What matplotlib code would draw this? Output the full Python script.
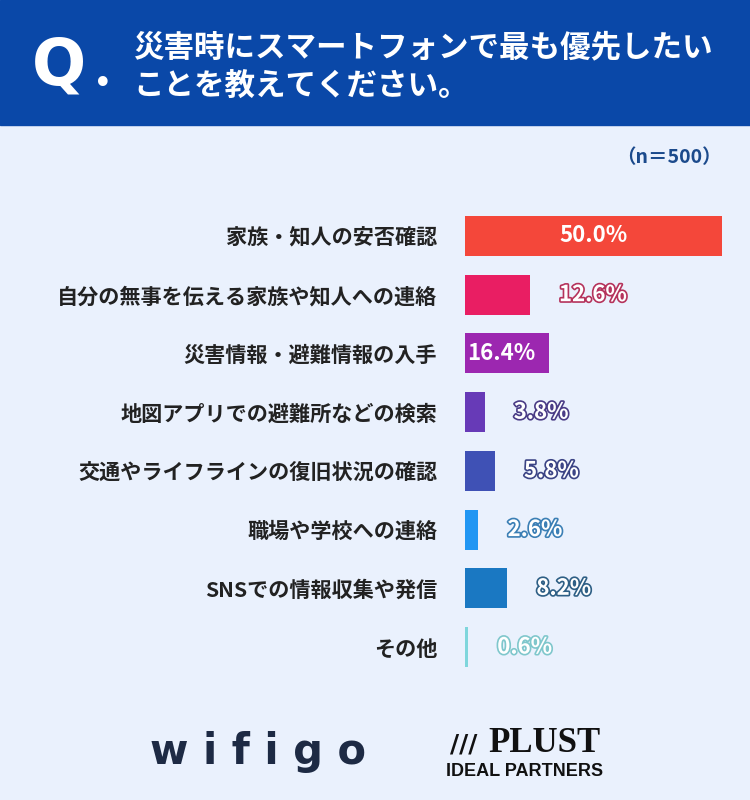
import matplotlib
matplotlib.use("Agg")
import matplotlib.pyplot as plt
import matplotlib.patheffects as pe
from matplotlib.patches import Rectangle

plt.rcParams['font.family'] = ['Noto Sans CJK JP', 'DejaVu Sans']

categories = ["家族・知人の安否確認", "自分の無事を伝える家族や知人への連絡", "災害情報・避難情報の入手",
              "地図アプリでの避難所などの検索", "交通やライフラインの復旧状況の確認", "職場や学校への連絡",
              "SNSでの情報収集や発信", "その他"]
values = [50.0, 12.6, 16.4, 3.8, 5.8, 2.6, 8.2, 0.6]
colors = ["#f4473a", "#e91e63", "#9c27b0", "#673ab7", "#3f51b5", "#2196f3", "#1a78c2", "#7fd6dc"]
strokes = ["#f4473a", "#b5335c", "#9c27b0", "#4a3c86", "#3b4485", "#3b7fb5", "#2e5f85", "#7fc7cc"]
inside = [True, False, True, False, False, False, False, False]

W, H = 750, 800
fig = plt.figure(figsize=(7.5, 8), dpi=100)
fig.patch.set_facecolor("#eaf1fd")

# header
fig.add_artist(Rectangle((0, 1 - 125 / H), 1, 125 / H, transform=fig.transFigure, color="#0a48a8", zorder=0))
fig.text(32 / W, 1 - 66 / H, "Q", color="white", fontsize=46, fontweight="bold", va="center", ha="left",
         family="DejaVu Sans")
fig.text(103 / W, 1 - 84 / H, "•", color="white", fontsize=24, va="center", ha="center", family="DejaVu Sans")
fig.text(133 / W, 1 - 47 / H, "災害時にスマートフォンで最も優先したい", color="white", fontsize=22,
         fontweight="bold", va="center", ha="left")
fig.text(133 / W, 1 - 87 / H, "ことを教えてください。", color="white", fontsize=22,
         fontweight="bold", va="center", ha="left")
fig.text(722 / W, 1 - 158 / H, "（n＝500）", color="#1b4a8c", fontsize=14, fontweight="bold",
         va="center", ha="right")

top, bot = 206.6, 676.4
ax = fig.add_axes([465 / W, 1 - bot / H, 257 / W, (bot - top) / H])
ax.set_facecolor("none")
y = list(range(len(values)))
ax.barh(y, values, height=0.68, color=colors)
ax.set_xlim(0, 50)
ax.set_ylim(len(values) - 0.5, -0.5)
for s in ax.spines.values():
    s.set_visible(False)
ax.set_xticks([])
ax.set_yticks(y)
ax.set_yticklabels(categories, fontsize=15.2, fontweight="bold", color="#222222")
ax.tick_params(axis="y", length=0, pad=20)

for i, (v, c, sc, ins) in enumerate(zip(values, colors, strokes, inside)):
    lab = f"{v:.1f}%"
    if ins:
        if v > 30:
            ax.text(v / 2, i, lab, color="white", fontsize=16, fontweight="bold", ha="center", va="center")
        else:
            ax.text(0.4, i, lab, color="white", fontsize=16, fontweight="bold", ha="left", va="center")
    else:
        ax.annotate(lab, (v, i), xytext=(21, 0), textcoords="offset points", color="white",
                    fontsize=16, fontweight="bold", ha="left", va="center",
                    path_effects=[pe.withStroke(linewidth=2.4, foreground=sc)])

# logos
fig.text(150 / W, 1 - 752 / H, "w i f i g o", color="#1d2a44", fontsize=30, fontweight="bold",
         va="center", ha="left", family="DejaVu Sans")
fig.text(488 / W, 1 - 744 / H, "PLUST", color="#111111", fontsize=25, fontweight="bold",
         va="center", ha="left", family="Liberation Serif")
fig.text(450 / W, 1 - 744 / H, "///", color="#111111", fontsize=18, fontweight="bold",
         va="center", ha="left", family="DejaVu Sans")
fig.text(446 / W, 1 - 772 / H, "IDEAL PARTNERS", color="#111111", fontsize=13, fontweight="bold",
         va="center", ha="left", family="Liberation Sans")

fig.savefig("out.png", dpi=100, facecolor=fig.get_facecolor())
